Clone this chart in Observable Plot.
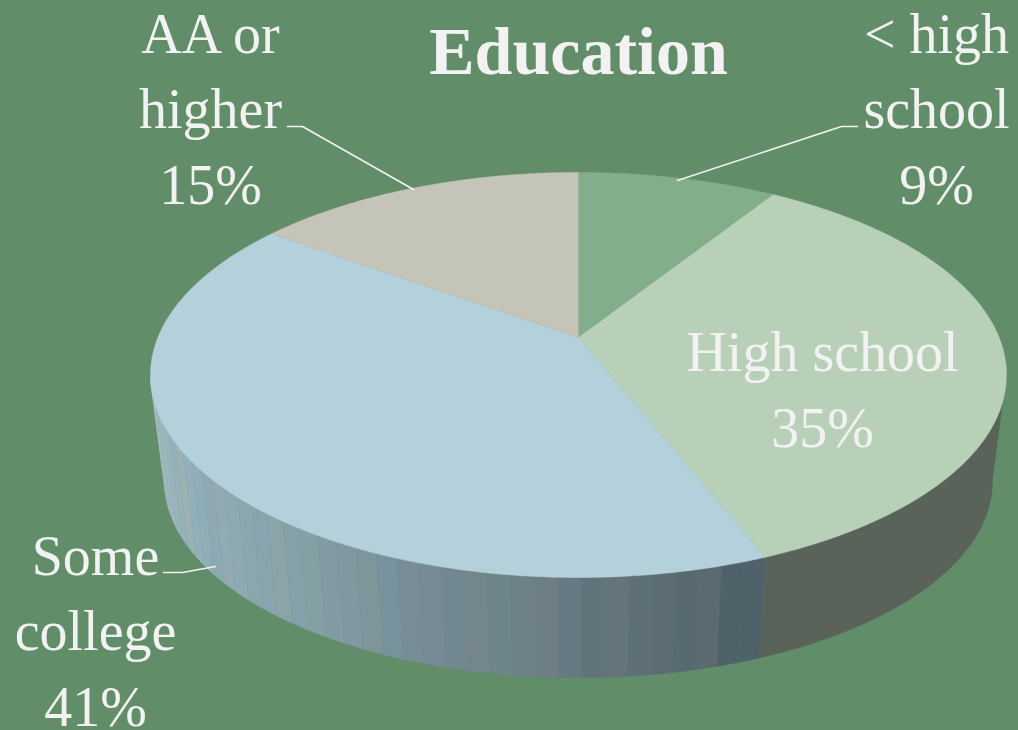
<!DOCTYPE html>
<html>
<head>
<meta charset="utf-8">
<title>Education</title>
<script src="https://cdn.jsdelivr.net/npm/d3@7"></script>
<script src="https://cdn.jsdelivr.net/npm/@observablehq/plot@0.6"></script>
<style>
  html, body { margin: 0; padding: 0; background: #618d68; }
  svg { display: block; }
</style>
</head>
<body>
<div id="chart"></div>
<script>
// Values
const categories = ["< high school", "High school", "Some college", "AA or higher"];
const shares = [9, 35, 41, 15];
const labelLines = [["< high", "school"], ["High school"], ["Some", "college"], ["AA or", "higher"]];

// Colours
const sliceColors = ["#82af89", "#b9d0b8", "#b4d1db", "#c4c5b8"];
const highSchoolWall = "#59635a";
const someCollegeWall = [
  "#a3bcc6", "#9fbac3", "#a5bbc5", "#9cb8be", "#a1b6c0", "#9ab4bc", "#95b1b9", "#9cb1b3",
  "#91b0ba", "#90aeb7", "#8ea9b4", "#93aab0", "#8da9b4", "#8ca6ae", "#89a4ae", "#8ca4a8",
  "#86a0aa", "#85a0a4", "#829ba3", "#7f98a2", "#7f9599", "#78929d", "#788c98", "#758a95",
  "#728890", "#73868c", "#6e868a", "#6e8088", "#6d7f85", "#657a82", "#61747c", "#64747a",
  "#5c7076", "#5c6c72", "#566a70", "#5a6a70", "#4f6269", "#4f6269"
];
const ink = "#f2f2f2";

// Perspective disc: the top face and the lower rim share a shape and differ in centre and scale
const topFace = {cx: 578, cy: 337, scale: 1};
const lowerRim = {cx: 578, cy: 445, scale: 0.967};
const radiusX = 420.6, radiusY = 195.6, tilt = 0.185;
const rad = d => d * Math.PI / 180;

function rim(face, deg) {
  const u = Math.sin(rad(deg)), v = -Math.cos(rad(deg));
  const w = 1 - tilt * v;
  return {
    x: face.cx + face.scale * radiusX * u / w,
    y: face.cy + face.scale * radiusY * v / w
  };
}

// Wall silhouettes sit where the rim's tangent runs along the extrusion
const visibleFrom = 100.7, visibleTo = 259.3;

// Cumulative slice boundaries in degrees, clockwise from twelve o'clock
const edges = [0];
shares.forEach(s => edges.push(edges[edges.length - 1] + s * 3.6));

function arcSamples(a0, a1) {
  const n = Math.max(2, Math.ceil(Math.abs(a1 - a0) * 2));
  return d3.range(n + 1).map(i => a0 + (a1 - a0) * i / n);
}

const topRows = categories.flatMap((name, i) => {
  const ring = arcSamples(edges[i], edges[i + 1]).map(a => rim(topFace, a));
  return [{x: topFace.cx, y: topFace.cy}, ...ring].map(p => ({...p, key: name, color: sliceColors[i]}));
});

function wallPiece(a0, a1, key, color) {
  const samples = arcSamples(a0, a1);
  const upper = samples.map(a => rim(topFace, a));
  const lower = samples.slice().reverse().map(a => rim(lowerRim, a));
  return [...upper, ...lower].map(p => ({...p, key, color}));
}

const wallRows = [
  ...wallPiece(visibleFrom, edges[2], "wall-hs", highSchoolWall),
  ...someCollegeWall.flatMap((color, i) => {
    const step = (visibleTo - edges[2]) / someCollegeWall.length;
    return wallPiece(edges[2] + (someCollegeWall.length - 1 - i) * step,
                     edges[2] + (someCollegeWall.length - i) * step,
                     "wall-sc-" + i, color);
  })
];

// Callout text and leader lines
const labelX = [936, 822, 95, 210];
const labelBaseline = [203, 446, 725, 203];
const labels = categories.map((name, i) => ({
  text: [...labelLines[i], shares[i] + "%"].join("\n"),
  x: labelX[i],
  y: labelBaseline[i]
}));
const leaderRows = [
  {key: "a", x: 857, y: 126}, {key: "a", x: 841, y: 126}, {key: "a", x: 677, y: 180},
  {key: "c", x: 163, y: 572}, {key: "c", x: 182, y: 572}, {key: "c", x: 215, y: 566},
  {key: "d", x: 287, y: 126}, {key: "d", x: 302, y: 126}, {key: "d", x: 413, y: 189}
];

const chart = Plot.plot({
  width: 1018,
  height: 730,
  margin: 0,
  x: {domain: [0, 1018], range: [0, 1018], axis: null},
  y: {domain: [0, 730], range: [0, 730], axis: null},
  color: {type: "identity"},
  style: {background: "#618d68", fontFamily: "'Liberation Serif', serif"},
  marks: [
    Plot.line(wallRows, {x: "x", y: "y", z: "key", fill: "color", stroke: "color", strokeWidth: 0.6, curve: "linear"}),
    Plot.line(topRows, {x: "x", y: "y", z: "key", fill: "color", stroke: "color", strokeWidth: 0.5, curve: "linear"}),
    Plot.line(leaderRows, {x: "x", y: "y", z: "key", stroke: ink, strokeWidth: 1.6, curve: "linear"}),
    Plot.text(labels, {
      x: "x", y: "y", text: "text", fill: ink, fontSize: 56,
      lineHeight: 1.345, lineAnchor: "bottom", textAnchor: "middle"
    }),
    Plot.text(["Education"], {
      x: () => 578, y: () => 73, fill: ink, fontSize: 68, fontWeight: "bold",
      letterSpacing: 1.9, lineAnchor: "bottom", textAnchor: "middle"
    })
  ]
});
document.getElementById("chart").appendChild(chart);
</script>
</body>
</html>
